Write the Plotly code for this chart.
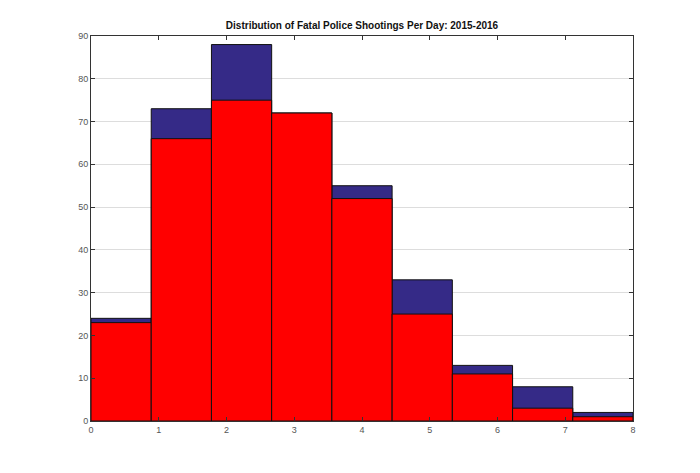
import numpy as np
import plotly.graph_objects as go

# histogram of shootings per day, two years overlaid
bin_edges = np.linspace(0, 8, 10)
counts_2015 = [24, 73, 88, 72, 55, 33, 13, 8, 2]
counts_2016 = [23, 66, 75, 72, 52, 25, 11, 3, 1]

centers = (bin_edges[:-1] + bin_edges[1:]) / 2
width = bin_edges[1] - bin_edges[0]

fig = go.Figure()
fig.add_trace(go.Bar(x=centers, y=counts_2015, width=width,
                     marker=dict(color="#352a87", line=dict(color="#111111", width=1))))
fig.add_trace(go.Bar(x=centers, y=counts_2016, width=width,
                     marker=dict(color="#ff0000", line=dict(color="#111111", width=1))))

axis_style = dict(showline=True, linecolor="#333333", linewidth=1, mirror="ticks",
                  ticks="inside", ticklen=4, tickcolor="#333333", zeroline=False,
                  tickfont=dict(family="Liberation Sans", size=9, color="#555555"))

fig.update_layout(
    width=700, height=473,
    barmode="overlay", showlegend=False,
    plot_bgcolor="white", paper_bgcolor="white",
    margin=dict(l=83, r=75, t=28, b=60),
    title=dict(text="<b>Distribution of Fatal Police Shootings Per Day: 2015-2016</b>",
               x=(83 + 625) / 2 / 700, xanchor="center", y=1 - 21 / 473, yanchor="bottom",
               font=dict(family="Liberation Sans", size=10, color="#111111")),
    xaxis=dict(range=[0, 8], dtick=1, showgrid=False, **axis_style),
    yaxis=dict(range=[0, 90], dtick=10, showgrid=True, gridcolor="#dddddd", **axis_style),
)

fig.write_html("out.html")
